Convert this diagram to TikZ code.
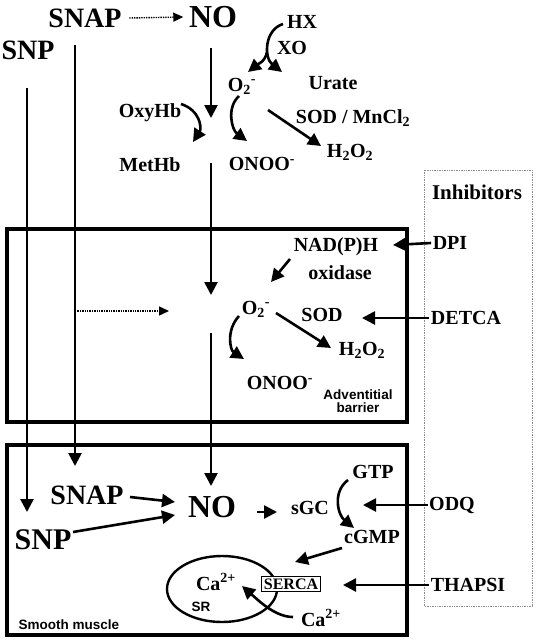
\documentclass[tikz,border=0pt]{standalone}
\usepackage{fontspec}
\setmainfont{Liberation Serif}
\setsansfont{Liberation Sans}
\usetikzlibrary{arrows.meta}

\begin{document}
\begin{tikzpicture}[
  x = 1pt, y = -1pt,
  every node/.style = {inner sep=1.5pt, font=\fontsize{20}{22}\selectfont\bfseries},
  big/.style        = {font=\fontsize{28}{28}\selectfont\bfseries},
  bigger/.style     = {font=\fontsize{32}{32}\selectfont\bfseries},
  tag/.style        = {font=\fontsize{13.5}{15}\selectfont\sffamily\bfseries, align=center},
  flow/.style       = {draw, line width=2.6pt, -{Triangle[length=13pt,width=13pt]}},
  hint/.style       = {draw, line width=1.4pt, densely dotted, -{Triangle[length=10pt,width=9pt]}},
  wall/.style       = {draw, line width=3.2pt},
]
\useasboundingbox (0,0) rectangle (538,640);

% compartments
\draw[wall] (7,229) rectangle (407,422);
\draw[wall] (7,445) rectangle (407,635);
\draw[black!45, line width=0.7pt, densely dotted] (424,170) rectangle (532,606);

% outside
\node[big]    (snapTop) at ( 85, 18) {SNAP};
\node[bigger] (noTop)   at (213, 17) {NO};
\node[big]    (snpTop)  at ( 28, 50) {SNP};
\node (hx)      at (302, 22) {HX};
\node (xo)      at (292, 48) {XO};
\node (o2Top)   at (242, 86) {O\textsubscript{2}\textsuperscript{-}};
\node (urate)   at (333, 83) {Urate};
\node (oxyhb)   at (150,113) {OxyHb};
\node (methb)   at (150,165) {MetHb};
\node (sodMn)   at (353,118) {SOD / MnCl\textsubscript{2}};
\node (h2o2Top) at (350,152) {H\textsubscript{2}O\textsubscript{2}};
\node (onooTop) at (262,164) {ONOO\textsuperscript{-}};
% adventitia
\node (nadph)   at (336,247) {NAD(P)H};
\node (oxidase) at (340,273) {oxidase};
\node (o2Adv)   at (256,309) {O\textsubscript{2}\textsuperscript{-}};
\node (sodAdv)  at (322,315) {SOD};
\node (h2o2Adv) at (362,350) {H\textsubscript{2}O\textsubscript{2}};
\node (onooAdv) at (280,383) {ONOO\textsuperscript{-}};
\node[tag] (advLabel) at (358,401) {Adventitial\\[-2pt]barrier};
% smooth muscle
\node[big]    (snapSm) at ( 87,495) {SNAP};
\node[bigger] (noSm)   at (212,507) {NO};
\node[big, font=\fontsize{30}{30}\selectfont\bfseries] (snpSm) at ( 43,540) {SNP};
\node (sgc)  at (310,508) {sGC};
\node (gtp)  at (373,472) {GTP};
\node (cgmp) at (372,537) {cGMP};
\draw[line width=2.4pt] (222,589) ellipse (55 and 33);
\node[draw, line width=0.8pt, fill=white, inner sep=2.5pt,
      font=\fontsize{16}{17}\selectfont\bfseries] (serca) at (291,584) {SERCA};
\node (caIn)  at (216,582) {Ca\textsuperscript{2+}};
\node (caOut) at (321,618) {Ca\textsuperscript{2+}};
\node[tag] (srLabel) at (201,607) {SR};
\node[tag] (smLabel) at ( 69,625) {Smooth muscle};
% inhibitors
\node[font=\fontsize{21}{22}\selectfont\bfseries] (inhib) at (477,192) {Inhibitors};
\node (dpi)    at (450,243) {DPI};
\node (detca)  at (466,318) {DETCA};
\node (odq)    at (452,505) {ODQ};
\node (thapsi) at (468,585) {THAPSI};

% free ends
\coordinate (snapA) at ( 75, 45);  \coordinate (snapB) at ( 75,466);
\coordinate (snpA)  at ( 27, 88);  \coordinate (snpB)  at ( 27,512);
\coordinate (noA)   at (211, 48);  \coordinate (noB)   at (211,118);
\coordinate (noC)   at (211,163);  \coordinate (noD)   at (211,295);
\coordinate (noE)   at (211,333);  \coordinate (noF)   at (211,486);
\coordinate (o2TopR) at (268,110); \coordinate (h2o2TopL) at (321,146);
\coordinate (o2AdvR) at (276,313); \coordinate (h2o2AdvL) at (331,348);
\coordinate (nadphL) at (290,259); \coordinate (o2AdvT)   at (271,282);
\coordinate (noSmR)  at (257,512); \coordinate (sgcL)     at (277,512);
\coordinate (cgmpL)  at (342,548); \coordinate (sercaT)   at (295,562);
\coordinate (snapSmR) at (130,497); \coordinate (snpSmR) at (73,532);
\coordinate (noSmL1)  at (175,502); \coordinate (noSmL2) at (175,515);
\coordinate (nadphR) at (393,245); \coordinate (sodR)  at (362,318);
\coordinate (gtpR)   at (363,505); \coordinate (sercaR) at (343,585);

\foreach \p/\c in {snapA/snapB, snpA/snpB, noA/noB, noC/noD, noE/noF,
                   o2TopR/h2o2TopL, o2AdvR/h2o2AdvL, nadphL/o2AdvT,
                   noSmR/sgcL, cgmpL/sercaT, snapSmR/noSmL1, snpSmR/noSmL2,
                   dpi.west/nadphR, detca.west/sodR, odq.west/gtpR, thapsi.west/sercaR}
  \draw[flow] (\p) -- (\c);

% curved steps
\draw[flow] (283,24) .. controls (264,30) and (264,58) .. (282,72);
\draw[flow] (267,52) .. controls (265,62) and (258,64) .. (248,72);
\draw[flow] (181,104) .. controls (200,110) and (202,128) .. (193,142);
\draw[flow] (239,96) .. controls (226,108) and (232,130) .. (247,141);
\draw[flow] (239,316) .. controls (226,330) and (230,350) .. (244,359);
\draw[flow] (348,480) .. controls (332,492) and (338,515) .. (354,528);
\draw[flow] (293,617) .. controls (275,617) and (258,600) .. (242,586);

% dotted routes
\draw[hint] (snapTop.east) ++(6,0) -- ([xshift=-4pt]noTop.west);
\draw[hint] (75,311) -- (169,311);

\end{tikzpicture}
\end{document}
